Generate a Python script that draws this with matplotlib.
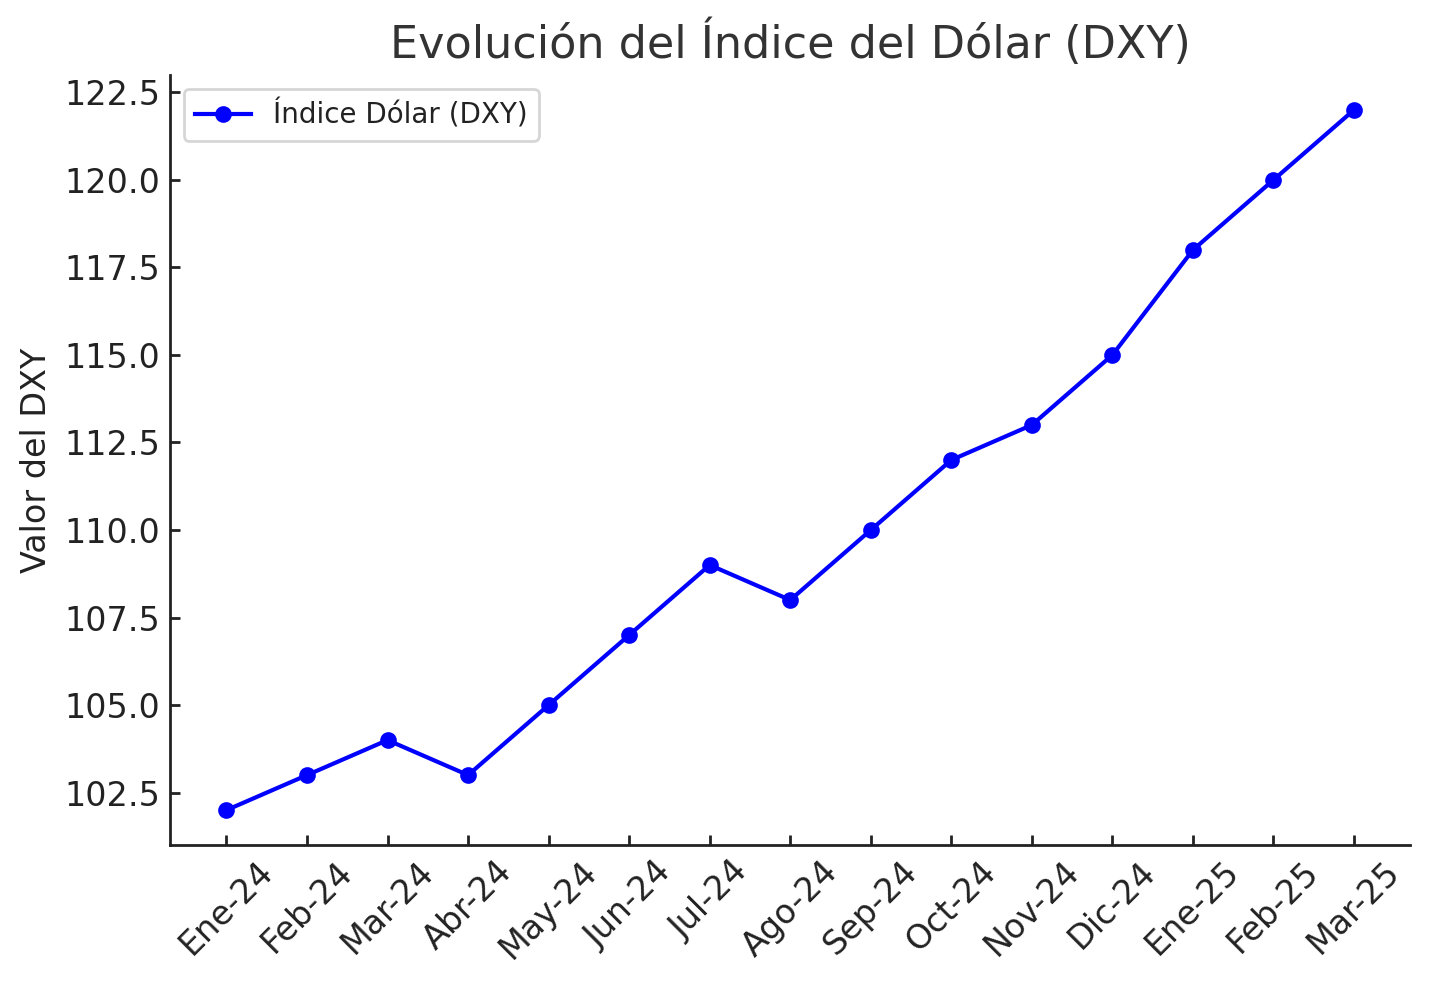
import matplotlib
matplotlib.use("Agg")
import matplotlib.pyplot as plt

meses = ["Ene-24", "Feb-24", "Mar-24", "Abr-24", "May-24", "Jun-24", "Jul-24", "Ago-24",
         "Sep-24", "Oct-24", "Nov-24", "Dic-24", "Ene-25", "Feb-25", "Mar-25"]
dxy = [102, 103, 104, 103, 105, 107, 109, 108, 110, 112, 113, 115, 118, 120, 122]

plt.rcParams['font.family'] = ['DejaVu Sans']
plt.rcParams['text.color'] = '#222222'
plt.rcParams['axes.labelcolor'] = '#222222'
plt.rcParams['xtick.color'] = '#222222'
plt.rcParams['ytick.color'] = '#222222'

fig = plt.figure(figsize=(7.145, 4.925), dpi=200)
ax = fig.add_axes([0.119, 0.142, 0.868, 0.782])

x = list(range(len(meses)))
ax.plot(x, dxy, color='blue', marker='o', markersize=5, linewidth=1.5, label='Índice Dólar (DXY)')

ax.set_title('Evolución del Índice del Dólar (DXY)', fontsize=16, color='#333333')
ax.set_ylabel('Valor del DXY', fontsize=12)
ax.set_xticks(x)
ax.set_xticklabels(meses, rotation=45, fontsize=12)
ax.tick_params(axis='y', labelsize=12)
ax.tick_params(direction='in', length=3.5, width=1.0)
for s in ['left', 'bottom']:
    ax.spines[s].set_linewidth(1.0)
    ax.spines[s].set_color('#222222')
ax.spines['top'].set_visible(False)
ax.spines['right'].set_visible(False)
ax.legend(loc='upper left', fontsize=10, fancybox=True)

fig.savefig('out.png', dpi=200)
